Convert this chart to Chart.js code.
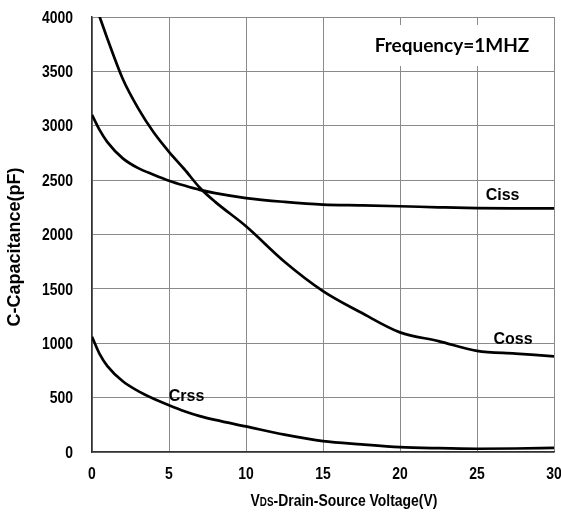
<!DOCTYPE html>
<html>
<head>
<meta charset="utf-8">
<script src="https://cdn.jsdelivr.net/npm/chart.js@4/dist/chart.umd.min.js"></script>
<style>
  html, body { margin: 0; padding: 0; background: #fff; }
  #wrap { width: 561px; height: 514px; position: relative; }
</style>
</head>
<body>
<div id="wrap"><canvas id="c" width="561" height="514"></canvas></div>
<script>
// Drain-source voltage (V)
const vds = [0, 0.5, 1, 2, 3, 4, 5, 6, 7, 8, 10, 12.5, 15, 17.5, 20, 22.5, 25, 27.5, 30];
// Capacitances (pF)
const ciss = [3100, 2960, 2850, 2700, 2610, 2550, 2495, 2450, 2410, 2380, 2335, 2300, 2275, 2268, 2260, 2250, 2242, 2240, 2240];
const coss = [4200, 4000, 3800, 3430, 3160, 2940, 2760, 2600, 2430, 2300, 2076, 1750, 1480, 1280, 1100, 1020, 930, 905, 880];
const crss = [1060, 900, 790, 650, 560, 490, 430, 375, 330, 295, 235, 160, 100, 70, 45, 35, 30, 32, 38];

const seriesNames = ['Ciss', 'Coss', 'Crss'];
const xTicks = [0, 5, 10, 15, 20, 25, 30];
const yTicks = [0, 500, 1000, 1500, 2000, 2500, 3000, 3500, 4000];

// where each curve name sits, in data coordinates
const curveLabels = [
  { text: 'Ciss', x: 26.66, y: 2360 },
  { text: 'Coss', x: 27.34, y: 1030 },
  { text: 'Crss', x: 6.14, y: 506 }
];

const SANS = '"Liberation Sans", Arial, sans-serif';
const SQUEEZE = 0.82; // condensed look for axis text

const toPoints = ys => vds.map((v, i) => ({ x: v, y: ys[i] }));

// draw text horizontally condensed, anchored by align at (x, y)
function narrowText(ctx, text, x, y, align) {
  const w = ctx.measureText(text).width * SQUEEZE;
  let left = x;
  if (align === 'center') left = x - w / 2;
  else if (align === 'right') left = x - w;
  ctx.save();
  ctx.translate(left, y);
  ctx.scale(SQUEEZE, 1);
  ctx.textAlign = 'left';
  ctx.fillText(text, 0, 0);
  ctx.restore();
  return w;
}

const annotate = {
  id: 'annotate',
  afterDatasetsDraw(chart) {
    const ctx = chart.ctx;
    const xs = chart.scales.x, ys = chart.scales.y;
    ctx.save();
    ctx.fillStyle = '#000';
    ctx.textAlign = 'center';
    ctx.textBaseline = 'middle';
    ctx.font = 'bold 16px ' + SANS;
    curveLabels.forEach(l => {
      ctx.fillText(l.text, xs.getPixelForValue(l.x), ys.getPixelForValue(l.y));
    });

    // frequency note on a white box
    ctx.fillStyle = '#fff';
    ctx.fillRect(362, 25, 178, 41);
    ctx.fillStyle = '#000';
    ctx.font = 'bold 19px Lato, "Open Sans", sans-serif';
    ctx.textAlign = 'center';
    ctx.fillText('Frequency=1MHZ', 452, 46);
    ctx.restore();
  },
  afterDraw(chart) {
    const ctx = chart.ctx;
    const xs = chart.scales.x, ys = chart.scales.y;

    // tick labels
    ctx.save();
    ctx.fillStyle = '#000';
    ctx.textBaseline = 'middle';
    ctx.font = 'bold 17px ' + SANS;
    ys.ticks.forEach(t => {
      narrowText(ctx, String(t.value), 73, ys.getPixelForValue(t.value) + 1, 'right');
    });
    xs.ticks.forEach(t => {
      narrowText(ctx, String(t.value), xs.getPixelForValue(t.value), 474, 'center');
    });
    ctx.restore();

    // y axis title
    ctx.save();
    ctx.fillStyle = '#000';
    ctx.translate(15, 247);
    ctx.rotate(-Math.PI / 2);
    ctx.textAlign = 'center';
    ctx.textBaseline = 'middle';
    ctx.font = 'bold 18px ' + SANS;
    ctx.fillText('C-Capacitance(pF)', 0, 0);
    ctx.restore();

    // x axis title with subscript DS
    ctx.save();
    ctx.fillStyle = '#000';
    ctx.textBaseline = 'alphabetic';
    const big = 'bold 17px ' + SANS;
    const small = 'bold 12px ' + SANS;
    const parts = [['V', big], ['DS', small], ['-Drain-Source Voltage(V)', big]];
    let total = 0;
    parts.forEach(p => { ctx.font = p[1]; total += ctx.measureText(p[0]).width * SQUEEZE; });
    let x = 344 - total / 2;
    parts.forEach(p => {
      ctx.font = p[1];
      x += narrowText(ctx, p[0], x, 506, 'left');
    });
    ctx.restore();
  }
};

const lineStyle = {
  borderColor: '#000',
  borderWidth: 2.7,
  pointRadius: 0,
  fill: false,
  tension: 0.3,
  cubicInterpolationMode: 'monotone'
};

new Chart(document.getElementById('c'), {
  type: 'line',
  data: {
    datasets: [
      Object.assign({ label: seriesNames[0], data: toPoints(ciss) }, lineStyle),
      Object.assign({ label: seriesNames[1], data: toPoints(coss) }, lineStyle),
      Object.assign({ label: seriesNames[2], data: toPoints(crss) }, lineStyle)
    ]
  },
  options: {
    responsive: false,
    animation: false,
    devicePixelRatio: 1,
    layout: { padding: { top: 17, right: 7, left: 0, bottom: 0 } },
    plugins: { legend: { display: false }, tooltip: { enabled: false } },
    scales: {
      x: {
        type: 'linear',
        min: 0, max: 30,
        afterBuildTicks: s => { s.ticks = xTicks.map(v => ({ value: v })); },
        afterFit: s => { s.height = 62; s.paddingLeft = 0; s.paddingRight = 0; },
        grid: { color: '#8a8a8a', lineWidth: 1, drawTicks: false },
        border: { color: '#333', width: 1.5 },
        ticks: { display: false }
      },
      y: {
        type: 'linear',
        min: 0, max: 4000,
        afterBuildTicks: s => { s.ticks = yTicks.map(v => ({ value: v })); },
        afterFit: s => { s.width = 92; s.paddingTop = 0; s.paddingBottom = 0; },
        grid: { color: '#8a8a8a', lineWidth: 1, drawTicks: false },
        border: { color: '#333', width: 1.5 },
        ticks: { display: false }
      }
    }
  },
  plugins: [annotate]
});
</script>
</body>
</html>
